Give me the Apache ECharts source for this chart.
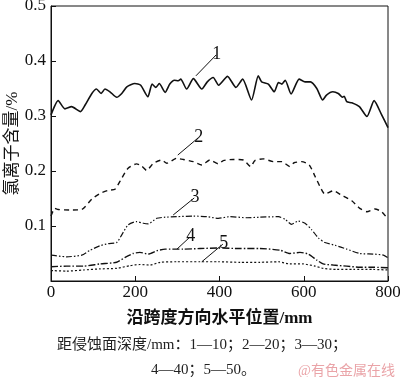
<!DOCTYPE html>
<html>
<head>
<meta charset="utf-8">
<script src="https://cdn.jsdelivr.net/npm/echarts@6/dist/echarts.min.js"></script>
<style>
  html, body { margin: 0; padding: 0; background: #fff; }
  #chart { width: 400px; height: 377px; }
</style>
</head>
<body>
<div id="chart"></div>
<script>
// 距侵蚀面深度 10/20/30/40/50 mm，[水平位置 mm, 氯离子含量 %]
const depth10 = [[0,0.302],[17,0.328],[33,0.313],[49,0.317],[70,0.308],[81,0.32],[97,0.341],[108,0.349],[119,0.341],[128,0.349],[140,0.344],[156,0.334],[168,0.341],[180,0.353],[199,0.359],[213,0.356],[230,0.335],[240,0.358],[249,0.352],[257,0.359],[271,0.343],[282,0.358],[293,0.365],[302,0.364],[308,0.367],[322,0.349],[338,0.368],[358,0.349],[371,0.362],[385,0.370],[398,0.356],[419,0.372],[439,0.352],[455,0.367],[476,0.329],[492,0.373],[500,0.362],[516,0.358],[530,0.344],[540,0.361],[548,0.358],[556,0.365],[570,0.340],[589,0.367],[603,0.362],[616,0.362],[631,0.350],[645,0.329],[654,0.338],[669,0.344],[682,0.341],[692,0.334],[696,0.336],[702,0.326],[714,0.324],[732,0.317],[750,0.299],[767,0.328],[785,0.302],[800,0.279]];
const depth20 = [[0,0.118],[9,0.132],[17,0.130],[45,0.129],[73,0.130],[97,0.149],[116,0.159],[136,0.165],[152,0.167],[168,0.187],[183,0.205],[203,0.213],[215,0.209],[227,0.201],[243,0.214],[263,0.220],[275,0.214],[298,0.223],[314,0.221],[338,0.217],[358,0.211],[377,0.220],[397,0.213],[409,0.219],[433,0.221],[457,0.220],[474,0.208],[484,0.219],[504,0.222],[528,0.217],[548,0.217],[567,0.208],[577,0.215],[595,0.217],[613,0.211],[627,0.190],[639,0.171],[650,0.158],[670,0.164],[690,0.156],[714,0.146],[733,0.132],[750,0.126],[769,0.131],[785,0.126],[800,0.112]];
const depth30 = [[0,0.047],[37,0.044],[73,0.047],[93,0.056],[116,0.064],[136,0.068],[156,0.070],[168,0.084],[183,0.102],[203,0.108],[219,0.105],[231,0.104],[251,0.114],[271,0.116],[298,0.117],[338,0.118],[370,0.117],[397,0.114],[425,0.117],[465,0.115],[496,0.116],[540,0.117],[556,0.112],[571,0.103],[587,0.109],[603,0.105],[619,0.093],[635,0.078],[650,0.070],[674,0.065],[702,0.058],[733,0.050],[765,0.049],[789,0.047],[800,0.042]];
const depth40 = [[0,0.026],[37,0.027],[77,0.027],[116,0.031],[156,0.034],[176,0.043],[195,0.050],[211,0.052],[231,0.049],[251,0.055],[271,0.058],[314,0.058],[354,0.059],[397,0.060],[449,0.059],[496,0.059],[544,0.056],[567,0.050],[591,0.052],[611,0.049],[631,0.038],[646,0.031],[670,0.029],[702,0.027],[733,0.025],[765,0.025],[800,0.024]];
const depth50 = [[0,0.019],[37,0.018],[77,0.020],[116,0.022],[156,0.023],[188,0.028],[211,0.030],[235,0.029],[259,0.034],[298,0.035],[354,0.035],[397,0.035],[449,0.034],[496,0.034],[540,0.035],[567,0.031],[599,0.031],[627,0.027],[646,0.023],[678,0.021],[718,0.021],[765,0.021],[800,0.020]];

const curveNames = ['1', '2', '3', '4', '5'];
// 引线：从曲线上一点到标号
const leaderFrom = [[344,0.373],[301,0.229],[290,0.120],[299,0.058],[358,0.035]];
const leaderTo = [[392,0.411],[349,0.260],[340,0.151],[330,0.080],[408,0.067]];

const yTicks = [0, 0.1, 0.2, 0.3, 0.4, 0.5];
const xTicks = [0, 200, 400, 600, 800];

const serif = "'Liberation Serif', 'Noto Sans CJK SC', serif";
const dashes = ['solid', [5, 4], [6, 2, 1.5, 2, 1.5, 2], [7, 2, 1.5, 2], [2, 2]];
const widths = [1.6, 1.4, 1.2, 1.4, 1.2];
const allData = [depth10, depth20, depth30, depth40, depth50];

const chart = echarts.init(document.getElementById('chart'));

const series = allData.map((data, i) => ({
  name: curveNames[i],
  type: 'line',
  data: data,
  showSymbol: false,
  smooth: 0.2,
  lineStyle: { color: '#111', width: widths[i], type: dashes[i] },
  markLine: {
    silent: true,
    symbol: 'none',
    animation: false,
    lineStyle: { color: '#111', width: 1, type: 'solid' },
    label: {
      show: true,
      position: 'end',
      distance: 1,
      formatter: curveNames[i],
      color: '#111',
      fontFamily: serif,
      fontSize: 18
    },
    data: [[{ coord: leaderFrom[i] }, { coord: leaderTo[i] }]]
  }
}));

chart.setOption({
  animation: false,
  backgroundColor: '#fff',
  grid: {
    left: 51, right: 12, top: 6, bottom: 96,
    containLabel: false, outerBoundsMode: 'none',
    show: true, borderColor: '#111', borderWidth: 1
  },
  xAxis: {
    type: 'value',
    min: xTicks[0],
    max: xTicks[xTicks.length - 1],
    interval: 200,
    name: '沿跨度方向水平位置/mm',
    nameLocation: 'middle',
    nameGap: 29,
    nameMoveOverlap: false,
    nameTextStyle: { color: '#111', fontFamily: serif, fontSize: 17, fontWeight: 'bold' },
    axisLine: { lineStyle: { color: '#111' } },
    axisTick: { inside: true, length: 5, lineStyle: { color: '#111' } },
    axisLabel: { color: '#111', fontFamily: serif, fontSize: 17, margin: 3 },
    splitLine: { show: false }
  },
  yAxis: {
    type: 'value',
    min: yTicks[0],
    max: yTicks[yTicks.length - 1],
    interval: 0.1,
    name: '氯离子含量/%',
    nameLocation: 'middle',
    nameGap: 30,
    nameMoveOverlap: false,
    nameTextStyle: { color: '#111', fontFamily: serif, fontSize: 17 },
    axisLine: { lineStyle: { color: '#111' } },
    axisTick: { inside: true, length: 5, lineStyle: { color: '#111' } },
    axisLabel: {
      color: '#111', fontFamily: serif, fontSize: 17, margin: 5,
      formatter: v => (v === 0 ? '' : v.toFixed(1))
    },
    splitLine: { show: false }
  },
  title: [
    {
      text: '距侵蚀面深度/mm：1—10；2—20；3—30；',
      left: 52, top: 333,
      textStyle: { color: '#222', fontFamily: serif, fontSize: 15, fontWeight: 'normal' }
    },
    {
      text: '4—40；5—50。',
      left: 146, top: 358,
      textStyle: { color: '#222', fontFamily: serif, fontSize: 15, fontWeight: 'normal' }
    },
    {
      text: '@有色金属在线',
      left: 293, top: 359,
      textStyle: { color: '#eaa4a8', fontFamily: serif, fontSize: 14, fontWeight: 'normal' }
    }
  ],
  series: series
});
</script>
</body>
</html>
